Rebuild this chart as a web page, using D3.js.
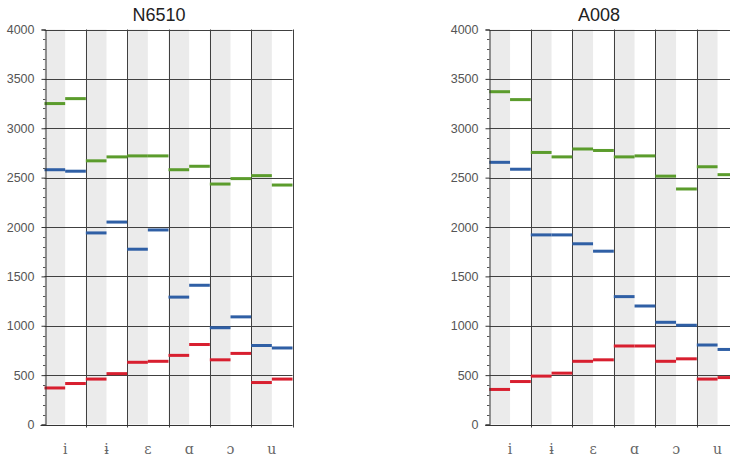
<!DOCTYPE html>
<html>
<head>
<meta charset="utf-8">
<script src="https://cdn.jsdelivr.net/npm/d3@7"></script>
<style>
  html, body { margin: 0; padding: 0; background: #fff; }
  svg { display: block; }
</style>
</head>
<body>
<svg id="chart" width="730" height="463"></svg>
<script>
// Vowel categories and formant frequencies (Hz), two measurements per vowel
const vowels = ["i", "ɨ", "ɛ", "ɑ", "ɔ", "u"];
const takes = ["first", "second"];
const yTicks = [0, 500, 1000, 1500, 2000, 2500, 3000, 3500, 4000];

const n6510F1 = [[370, 415], [460, 515], [630, 640], [700, 810], [655, 720], [425, 460]];
const n6510F2 = [[2580, 2565], [1940, 2050], [1775, 1970], [1290, 1410], [980, 1090], [800, 775]];
const n6510F3 = [[3250, 3300], [2670, 2710], [2720, 2720], [2580, 2615], [2435, 2490], [2520, 2425]];

const a008F1 = [[355, 435], [490, 520], [640, 655], [795, 795], [640, 665], [460, 475]];
const a008F2 = [[2655, 2585], [1920, 1920], [1830, 1755], [1295, 1200], [1035, 1005], [805, 760]];
const a008F3 = [[3370, 3290], [2755, 2710], [2790, 2775], [2710, 2720], [2515, 2385], [2610, 2530]];

const formantColors = { F1: "#d81f2f", F2: "#2f5fa5", F3: "#5b9c2c" };

const svg = d3.select("#chart");

function drawPanel(opts) {
  const { title, titleX, left, right, F1, F2, F3 } = opts;
  const top = 29.5, bottom = 424.5;

  const x = d3.scaleBand().domain(vowels).range([left, right]);
  const xs = d3.scaleBand().domain(takes).range([0, x.bandwidth()]);
  const y = d3.scaleLinear().domain([0, 4000]).range([bottom, top]);

  const g = svg.append("g");

  // shaded left half of every vowel column
  g.append("g").selectAll("rect")
    .data(vowels)
    .join("rect")
    .attr("x", d => x(d))
    .attr("y", top)
    .attr("width", xs.bandwidth())
    .attr("height", bottom - top)
    .attr("fill", "#ebebeb");

  // horizontal grid
  g.append("g").selectAll("line")
    .data(yTicks.filter(t => t > 0))
    .join("line")
    .attr("x1", left).attr("x2", right)
    .attr("y1", d => Math.round(y(d)) + 0.5)
    .attr("y2", d => Math.round(y(d)) + 0.5)
    .attr("stroke", "#404040")
    .attr("stroke-width", 1);

  // vertical column separators (with small ticks below the baseline)
  const seps = vowels.map(v => x(v) + x.bandwidth());
  g.append("g").selectAll("line")
    .data(seps)
    .join("line")
    .attr("x1", d => Math.round(d) + 0.5).attr("x2", d => Math.round(d) + 0.5)
    .attr("y1", top).attr("y2", bottom + 3)
    .attr("stroke", "#404040")
    .attr("stroke-width", 1);

  // formant bars
  const series = [["F1", F1], ["F2", F2], ["F3", F3]];
  series.forEach(([name, vals]) => {
    const pts = [];
    vals.forEach((pair, i) => pair.forEach((v, j) => pts.push({ vowel: vowels[i], take: takes[j], v })));
    g.append("g").selectAll("rect")
      .data(pts)
      .join("rect")
      .attr("x", d => x(d.vowel) + xs(d.take))
      .attr("width", xs.bandwidth())
      .attr("y", d => y(d.v) - 1.5)
      .attr("height", 3)
      .attr("fill", formantColors[name]);
  });

  // y axis with minor ticks every 100 Hz
  const yAxis = d3.axisLeft(y)
    .tickValues(yTicks)
    .tickSize(4)
    .tickPadding(7)
    .tickFormat(d3.format("d"));
  const ya = g.append("g")
    .attr("transform", `translate(${Math.round(left) + 0.5},0)`)
    .call(yAxis);
  ya.select(".domain").attr("stroke", "#333");
  ya.selectAll(".tick line").attr("stroke", "#333");
  ya.selectAll(".tick text")
    .attr("fill", "#555")
    .style("font-family", "'Liberation Sans', Arial, sans-serif")
    .style("font-size", "12.5px");
  const minor = d3.range(100, 4000, 100).filter(v => v % 500 !== 0);
  g.append("g").selectAll("line")
    .data(minor)
    .join("line")
    .attr("x1", Math.round(left) + 0.5).attr("x2", Math.round(left) - 2)
    .attr("y1", d => Math.round(y(d)) + 0.5).attr("y2", d => Math.round(y(d)) + 0.5)
    .attr("stroke", "#555");

  // baseline
  g.append("line")
    .attr("x1", left - 4).attr("x2", right)
    .attr("y1", Math.round(bottom) + 0.5).attr("y2", Math.round(bottom) + 0.5)
    .attr("stroke", "#333");

  // vowel labels
  g.append("g").selectAll("text")
    .data(vowels)
    .join("text")
    .attr("x", d => x(d) + x.bandwidth() / 2)
    .attr("y", 454)
    .attr("text-anchor", "middle")
    .attr("fill", "#666")
    .style("font-family", "'DejaVu Serif', 'Liberation Serif', serif")
    .style("font-size", "14px")
    .text(d => d);

  // panel title
  g.append("text")
    .attr("x", titleX)
    .attr("y", 20.5)
    .attr("text-anchor", "middle")
    .attr("fill", "#222")
    .style("font-family", "'Liberation Sans', Arial, sans-serif")
    .style("font-size", "18px")
    .text(title);
}

drawPanel({ title: "N6510", titleX: 159, left: 44.5, right: 292.5, F1: n6510F1, F2: n6510F2, F3: n6510F3 });
drawPanel({ title: "A008", titleX: 599, left: 489.3, right: 738.3, F1: a008F1, F2: a008F2, F3: a008F3 });
</script>
</body>
</html>
